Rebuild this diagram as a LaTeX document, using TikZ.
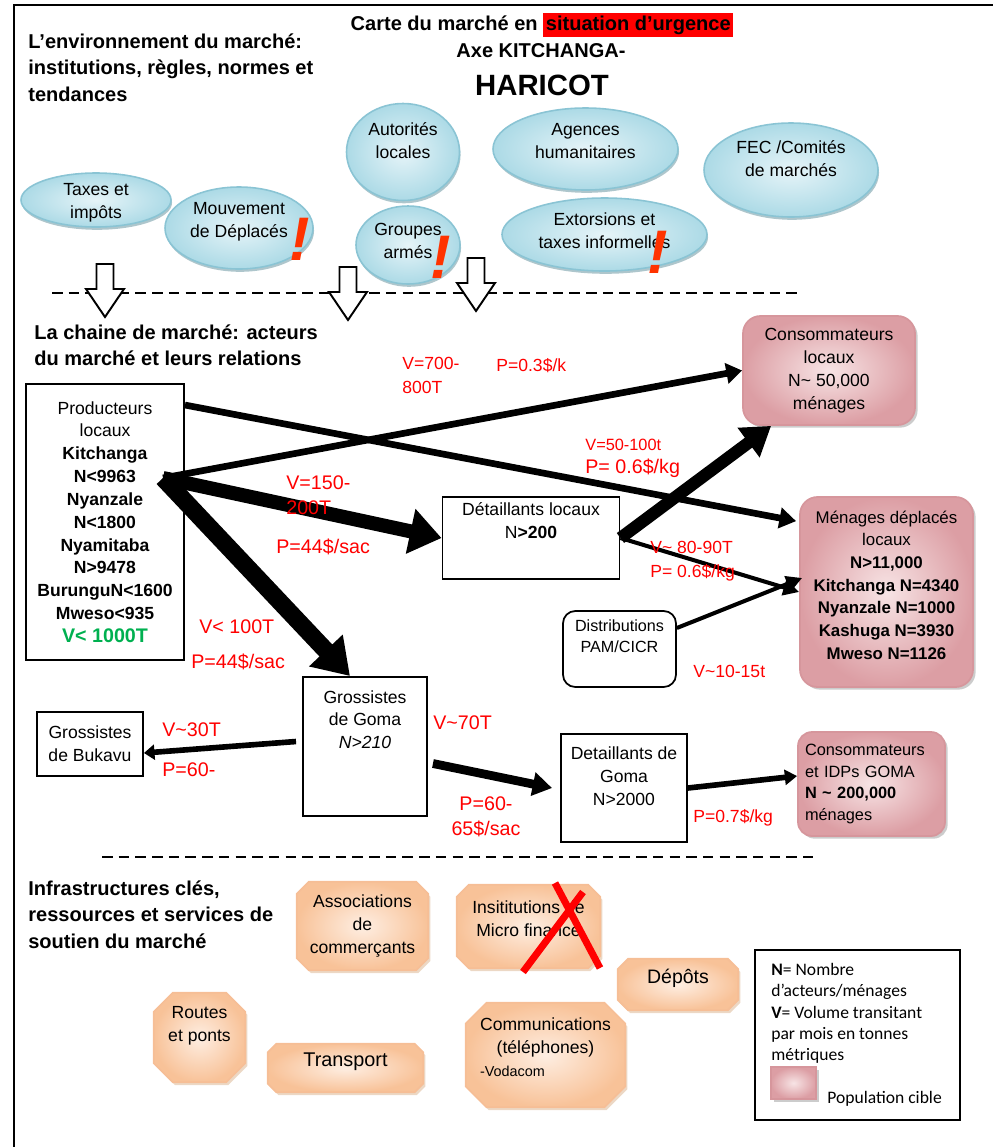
\documentclass[tikz,border=0pt]{standalone}
\usepackage{fontspec}
\setmainfont{Liberation Sans}
\newfontfamily\legendefont{Carlito}
\usepackage{tikz}
\usetikzlibrary{arrows.meta, shapes.geometric, shadows, calc, backgrounds}

\definecolor{bullebord}{RGB}{138,196,212}
\definecolor{bulleclair}{RGB}{230,244,248}
\definecolor{bullefonce}{RGB}{172,218,230}
\definecolor{bulleombre}{RGB}{120,160,170}
\definecolor{ciblebord}{RGB}{214,150,156}
\definecolor{cibleclair}{RGB}{247,228,229}
\definecolor{ciblefonce}{RGB}{220,158,164}
\definecolor{orangebord}{RGB}{246,190,150}
\definecolor{orangeclair}{RGB}{254,238,226}
\definecolor{orangefonce}{RGB}{248,194,152}
\definecolor{rougeprix}{RGB}{255,0,0}
\definecolor{rougeexcl}{RGB}{255,51,0}
\definecolor{vertvol}{RGB}{0,176,80}

\def\px{0.02cm}
\newcommand{\tld}{\textasciitilde}
\setlength{\fboxsep}{1.5pt}

\begin{document}
\begin{tikzpicture}[x=\px, y=-\px, font=\fontsize{10}{13}\selectfont,
    bulle/.style={ellipse, draw=bullebord, line width=0.9pt, inner sep=0pt,
        inner color=bulleclair, outer color=bullefonce,
        drop shadow={shadow xshift=0.6pt, shadow yshift=-1.6pt, fill=bulleombre, opacity=0.6}},
    texte/.style={align=center, inner sep=0pt},
    acteur/.style={draw, line width=1.1pt, align=center, inner sep=2pt},
    cible/.style={draw=ciblebord, line width=1pt, rounded corners=10pt, align=center, inner sep=2pt,
        inner color=cibleclair, outer color=ciblefonce,
        drop shadow={shadow xshift=1.5pt, shadow yshift=-1.5pt, fill=black!40, opacity=0.5}},
    soutien/.style={rectangle, inner sep=0pt, align=center},
    soutienfond/.style={draw=orangebord, line width=1pt, inner color=orangeclair, outer color=orangefonce,
        drop shadow={shadow xshift=1.2pt, shadow yshift=-1.6pt, fill=brown!60, opacity=0.5}},
    rubrique/.style={anchor=north west, align=left, inner sep=0pt, font=\bfseries\fontsize{11.4}{15.3}\selectfont},
    prix/.style={anchor=west, align=left, inner sep=0pt, text=rougeprix},
    petit/.style={prix, font=\fontsize{9.3}{12}\selectfont},
    moyen/.style={prix, font=\fontsize{10}{13.6}\selectfont},
    grand/.style={prix, font=\fontsize{11.2}{14.2}\selectfont},
    alerte/.style={inner sep=0pt, text=rougeexcl, font=\bfseries\itshape\fontsize{35}{35}\selectfont},
    fleche/.style n args={3}{draw, line width=#1, -{Triangle[length=#2, width=#3]}},
    separateur/.style={line width=1.1pt, dash pattern=on 6pt off 3.5pt}]

    \useasboundingbox (0,0) rectangle (993,1147);

    % Cadre
    \draw[line width=1pt] (14,1147) -- (14,5) -- (993,5);

    % Titre
    \node[font=\bfseries\fontsize{11.4}{13}\selectfont] (titre) at (542,25)
        {Carte du marché en \colorbox{rougeprix}{situation d'urgence}};
    \node[font=\bfseries\fontsize{11.4}{13}\selectfont] (axe) at (541,51) {Axe KITCHANGA-};
    \node[font=\bfseries\fontsize{16.7}{20}\selectfont] (haricot) at (542,85) {HARICOT};

    % Rubriques
    \node[rubrique] (environnement) at (28,33) {L'environnement du marché:\\institutions, règles, normes et\\tendances};
    \node[rubrique] (chaine) at (34,324) {La chaine de marché: acteurs\\du marché et leurs relations};
    \node[rubrique] (infra) at (28,880) {Infrastructures clés,\\ressources et services de\\soutien du marché};

    % Environnement du marché
    \node[bulle, minimum width=150*\px, minimum height=54*\px,
        label={[texte, yshift=-1.4pt]center:{Taxes et\\impôts}}] (taxes) at (96,200) {};
    \node[bulle, minimum width=148*\px, minimum height=82*\px,
        label={[texte, yshift=3.7pt]center:{Mouvement\\de Déplacés}}] (deplaces) at (239,228) {};
    \node[bulle, minimum width=113*\px, minimum height=97*\px,
        label={[texte, yshift=6.5pt]center:{Autorités\\locales}}] (autorites) at (403,152) {};
    \node[bulle, minimum width=104*\px, minimum height=78*\px,
        label={[texte, yshift=2.5pt]center:{Groupes\\armés}}] (groupes) at (408,245) {};
    \node[bulle, minimum width=185*\px, minimum height=82*\px,
        label={[texte, yshift=4.3pt]center:{Agences\\humanitaires}}] (agences) at (585.5,149) {};
    \node[bulle, minimum width=205*\px, minimum height=73*\px,
        label={[texte, yshift=2.3pt]center:{Extorsions et\\taxes informelles}}] (extorsions) at (604.5,234.5) {};
    \node[bulle, minimum width=174*\px, minimum height=94*\px,
        label={[texte, yshift=6.5pt]center:{FEC /Comités\\de marchés}}] (fec) at (791,170) {};

    \node[alerte] (alerte1) at (300,239) {!};
    \node[alerte] (alerte2) at (441,257) {!};
    \node[alerte] (alerte3) at (658,252) {!};

    % Separateurs et fleches d'influence
    \draw[separateur] (52,293) -- (800,293);
    \draw[separateur] (102,857) -- (813,857);
    \foreach \cx/\ty in {105/264, 348/267, 476/258} {
        \draw[fill=white, line width=1.1pt] (\cx-8.5,\ty) -- (\cx+8.5,\ty) -- (\cx+8.5,\ty+25)
            -- (\cx+19,\ty+25) -- (\cx,\ty+53) -- (\cx-19,\ty+25) -- (\cx-8.5,\ty+25) -- cycle;
    }

    % Acteurs de la chaine
    \node[acteur, minimum width=158*\px, minimum height=276*\px] (prod) at (105,522)
        {Producteurs\\locaux\\\textbf{Kitchanga}\\\textbf{N<9963}\\\textbf{Nyanzale}\\\textbf{N<1800}\\
         \textbf{Nyamitaba}\\\textbf{N>9478}\\\textbf{BurunguN<1600}\\\textbf{Mweso<935}\\
         {\color{vertvol}\bfseries\fontsize{11.2}{13}\selectfont V< 1000T}};
    \coordinate (prodhub) at (163,478);

    \node[acteur, minimum width=177*\px, minimum height=82*\px,
        label={[texte, yshift=9.9pt]center:{Détaillants locaux\\N\textbf{>200}}}] (detloc) at (531,538) {};
    \node[cible, minimum width=172*\px, minimum height=109*\px] (conslocaux) at (829,370.5)
        {Consommateurs\\locaux\\N\tld{} 50,000\\ménages};
    \node[cible, minimum width=173*\px, minimum height=190*\px,
        label={[texte, yshift=4pt, font=\fontsize{9.6}{12.9}\selectfont]center:{Ménages déplacés\\locaux\\
        \textbf{N>11,000}\\\textbf{Kitchanga N=4340}\\\textbf{Nyanzale N=1000}\\\textbf{Kashuga N=3930}\\
        \textbf{Mweso N=1126}}}] (menages) at (886.5,592) {};
    \node[acteur, line width=1pt, rounded corners=7pt, minimum width=113*\px, minimum height=76*\px,
        label={[texte, yshift=7.4pt, font=\fontsize{9.2}{12}\selectfont]center:{Distributions\\PAM/CICR}}] (distrib) at (619.5,649) {};
    \node[acteur, minimum width=124*\px, minimum height=139*\px,
        label={[texte, yshift=15.3pt]center:{Grossistes\\de Goma\\\textit{N>210}}}] (grossgoma) at (365,746.5) {};
    \node[acteur, minimum width=106*\px, minimum height=64*\px] (bukavu) at (90,744) {Grossistes\\de Bukavu};
    \node[acteur, minimum width=126*\px, minimum height=108*\px,
        label={[texte, yshift=6.8pt]center:{Detaillants de\\Goma\\N>2000}}] (detgoma) at (624,788) {};
    \node[cible, rounded corners=8pt, minimum width=147*\px, minimum height=104*\px, inner xsep=0pt,
        align=left, text width=133*\px, font=\fontsize{9.3}{12.3}\selectfont] (consgoma) at (871.5,784)
        {Consommateurs\\et IDPs GOMA\\\textbf{N \tld{} 200,000}\\ménages};

    % Flux
    \draw[fleche={3.8pt}{9pt}{11.5pt}] (prodhub) -- (conslocaux.west);
    \draw[fleche={3.8pt}{9.5pt}{11.5pt}] ($(prod.north east)+(0,22)$) -- ($(menages.north west)+(-3,25)$);
    \draw[fleche={8pt}{18pt}{25pt}] (prodhub) -- (detloc.west);
    \draw[fleche={10pt}{20pt}{25pt}] (prodhub) -- ($(grossgoma.north)+(-15,0)$);
    \draw[fleche={7pt}{16pt}{20pt}] (detloc.east) -- ($(conslocaux.south west)+(29,0)$);
    \draw[fleche={2.3pt}{9pt}{9pt}] (detloc.east) -- (menages.west);
    \draw[fleche={2.3pt}{9pt}{9pt}] ($(distrib.east)+(0,-21)$) -- ($(menages.west)+(3,-14)$);
    \draw[fleche={3.2pt}{6pt}{8.5pt}] ($(grossgoma.west)+(-6,-5)$) -- ($(bukavu.east)+(0,9)$);
    \draw[fleche={5pt}{11pt}{13pt}] ($(grossgoma.east)+(5,17)$) -- ($(detgoma.west)+(-8,0)$);
    \draw[fleche={3.2pt}{7pt}{8.5pt}] (detgoma.east) -- ($(consgoma.west)+(0,-8)$);

    % Volumes et prix
    \node[moyen] (v700) at (402,375.5) {V=700-\\800T};
    \node[moyen] (p03) at (496,366) {P=0.3\$/k};
    \node[petit] (v50) at (585,445) {V=50-100t};
    \node[grand] (p06a) at (585,468) {P= 0.6\$/kg};
    \node[grand] (v150) at (286,495) {V=150-\\200T};
    \node[grand] (p44a) at (276,547) {P=44\$/sac};
    \node[moyen] (v80) at (650,561.5) {V\tld{} 80-90T\\P= 0.6\$/kg};
    \node[grand] (v100) at (199,627) {V< 100T};
    \node[grand] (p44b) at (191,662) {P=44\$/sac};
    \node[moyen] (v1015) at (693,671) {V\tld10-15t};
    \node[grand] (v30) at (162,730) {V\tld30T};
    \node[grand] (p60a) at (162,770) {P=60-};
    \node[grand] (v70) at (433,723) {V\tld70T};
    \node[grand, anchor=center, align=center] (p60b) at (486,816.5) {P=60-\\65\$/sac};
    \node[moyen] (p07) at (693,818) {P=0.7\$/kg};

    % Infrastructures et services
    \node[soutien, minimum width=131*\px, minimum height=88*\px] (commercants) at (362.5,926)
        {Associations\\de\\commerçants};
    \node[soutien, minimum width=143*\px, minimum height=83*\px,
        label={[texte, yshift=4.5pt]center:{Insititutions de\\Micro finance}}] (microfin) at (528.5,926.5) {};
    \node[soutien, minimum width=120*\px, minimum height=51*\px,
        label={[texte, yshift=3.7pt, font=\fontsize{11.1}{13}\selectfont]center:{Dépôts}}] (depots) at (678,984.5) {};
    \node[soutien, minimum width=91*\px, minimum height=89*\px,
        label={[texte, yshift=6.5pt]center:{Routes\\et ponts}}] (routes) at (199.5,1037.5) {};
    \node[soutien, minimum width=155*\px, minimum height=48*\px,
        label={[texte, yshift=3.4pt, font=\fontsize{11.3}{13}\selectfont]center:{Transport}}] (transport) at (345.5,1068) {};
    \node[soutien, minimum width=159*\px, minimum height=104*\px,
        label={[texte, yshift=4.3pt, text width=131*\px]center:{Communications\\(téléphones)\\
        \makebox[\linewidth][l]{\fontsize{8.2}{12}\selectfont -Vodacom}}}] (communication) at (545.5,1055) {};
    \begin{scope}[on background layer]
        \foreach \nom/\c in {commercants/7pt, microfin/7pt, depots/6pt, routes/11pt, transport/5pt, communication/12pt} {
            \draw[soutienfond] ($(\nom.north west)+(\c,0)$) -- ($(\nom.north east)+(-\c,0)$)
                -- ($(\nom.north east)+(0,-\c)$) -- ($(\nom.south east)+(0,\c)$)
                -- ($(\nom.south east)+(-\c,0)$) -- ($(\nom.south west)+(\c,0)$)
                -- ($(\nom.south west)+(0,\c)$) -- ($(\nom.north west)+(0,-\c)$) -- cycle;
        }
    \end{scope}
    \draw[rougeprix, line width=4pt] (555,883) -- (600,968);
    \draw[rougeprix, line width=4pt] (583,892) -- (523,972);

    % Legende
    \node[draw, line width=1.1pt, minimum width=205*\px, minimum height=170*\px] (legende) at (857.5,1035) {};
    \node[anchor=north west, align=left, inner sep=0pt, font=\legendefont\fontsize{10}{12.1}\selectfont]
        (legendetexte) at (771,963)
        {\textbf{N}= Nombre\\d’acteurs/ménages\\\textbf{V}= Volume transitant\\par mois en tonnes\\métriques};
    \node[cible, rounded corners=0pt, inner sep=0pt, minimum width=45*\px, minimum height=32*\px] (echantillon) at (793.5,1083) {};
    \node[anchor=west, inner sep=0pt, font=\legendefont\fontsize{10}{12}\selectfont] (popcible) at (827,1099) {Population cible};
\end{tikzpicture}
\end{document}
